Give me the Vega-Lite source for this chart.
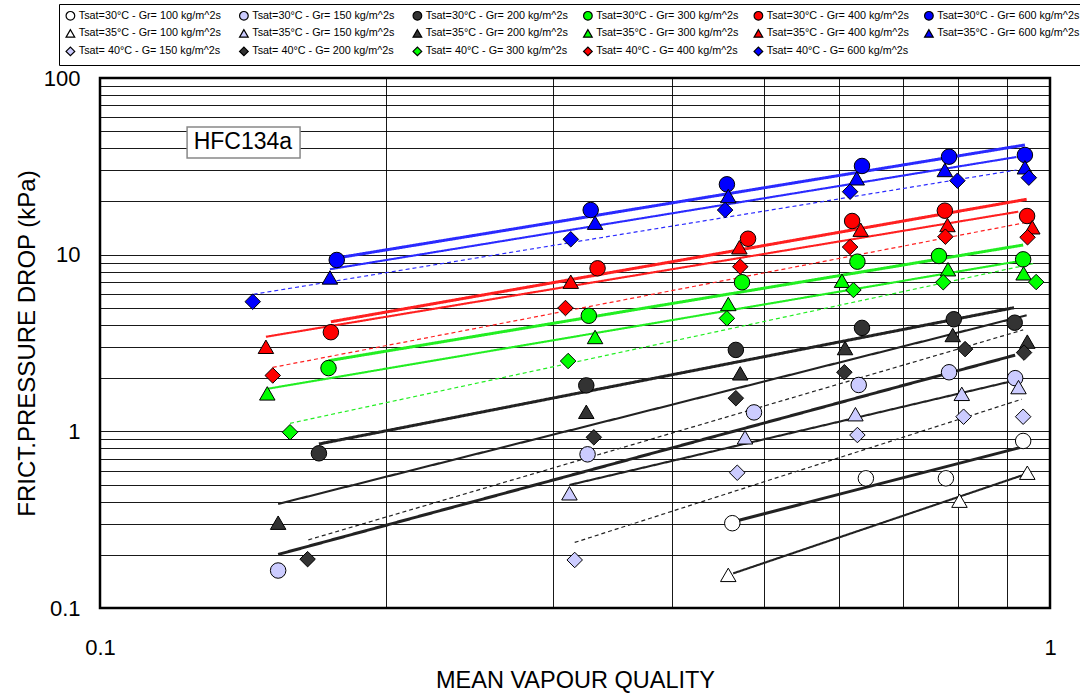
{
  "$schema": "https://vega.github.io/schema/vega-lite/v6.json",
  "width": 950,
  "height": 530,
  "autosize": {"type": "none"},
  "padding": {"left": 100, "top": 78, "right": 30, "bottom": 85},
  "background": "white",
  "config": {
    "font": "Liberation Sans",
    "view": {"stroke": "black", "strokeWidth": 2.5}
  },
  "datasets": {
    "pts": [
      {"series": "Tsat=30°C - Gr=  100 kg/m^2s", "x": 0.463, "y": 0.302},
      {"series": "Tsat=30°C - Gr=  100 kg/m^2s", "x": 0.640, "y": 0.542},
      {"series": "Tsat=30°C - Gr=  100 kg/m^2s", "x": 0.777, "y": 0.542},
      {"series": "Tsat=30°C - Gr=  100 kg/m^2s", "x": 0.937, "y": 0.882},
      {"series": "Tsat=30°C - Gr=  150 kg/m^2s", "x": 0.154, "y": 0.163},
      {"series": "Tsat=30°C - Gr=  150 kg/m^2s", "x": 0.326, "y": 0.741},
      {"series": "Tsat=30°C - Gr=  150 kg/m^2s", "x": 0.488, "y": 1.28},
      {"series": "Tsat=30°C - Gr=  150 kg/m^2s", "x": 0.629, "y": 1.83},
      {"series": "Tsat=30°C - Gr=  150 kg/m^2s", "x": 0.783, "y": 2.16},
      {"series": "Tsat=30°C - Gr=  150 kg/m^2s", "x": 0.919, "y": 2.00},
      {"series": "Tsat=30°C - Gr= 200 kg/m^2s", "x": 0.170, "y": 0.751},
      {"series": "Tsat=30°C - Gr= 200 kg/m^2s", "x": 0.325, "y": 1.82},
      {"series": "Tsat=30°C - Gr= 200 kg/m^2s", "x": 0.467, "y": 2.89},
      {"series": "Tsat=30°C - Gr= 200 kg/m^2s", "x": 0.634, "y": 3.85},
      {"series": "Tsat=30°C - Gr= 200 kg/m^2s", "x": 0.792, "y": 4.31},
      {"series": "Tsat=30°C - Gr= 200 kg/m^2s", "x": 0.918, "y": 4.12},
      {"series": "Tsat=30°C - Gr= 300 kg/m^2s", "x": 0.174, "y": 2.28},
      {"series": "Tsat=30°C - Gr= 300 kg/m^2s", "x": 0.327, "y": 4.51},
      {"series": "Tsat=30°C - Gr= 300 kg/m^2s", "x": 0.474, "y": 6.98},
      {"series": "Tsat=30°C - Gr= 300 kg/m^2s", "x": 0.627, "y": 9.13},
      {"series": "Tsat=30°C - Gr= 300 kg/m^2s", "x": 0.764, "y": 9.83},
      {"series": "Tsat=30°C - Gr= 300 kg/m^2s", "x": 0.937, "y": 9.41},
      {"series": "Tsat=30°C - Gr= 400 kg/m^2s", "x": 0.175, "y": 3.64},
      {"series": "Tsat=30°C - Gr= 400 kg/m^2s", "x": 0.334, "y": 8.37},
      {"series": "Tsat=30°C - Gr= 400 kg/m^2s", "x": 0.481, "y": 12.31},
      {"series": "Tsat=30°C - Gr= 400 kg/m^2s", "x": 0.619, "y": 15.51},
      {"series": "Tsat=30°C - Gr= 400 kg/m^2s", "x": 0.775, "y": 17.74},
      {"series": "Tsat=30°C - Gr= 400 kg/m^2s", "x": 0.946, "y": 16.55},
      {"series": "Tsat=30°C - Gr= 600 kg/m^2s", "x": 0.1775, "y": 9.33},
      {"series": "Tsat=30°C - Gr= 600 kg/m^2s", "x": 0.3285, "y": 17.89},
      {"series": "Tsat=30°C - Gr= 600 kg/m^2s", "x": 0.457, "y": 25.02},
      {"series": "Tsat=30°C - Gr= 600 kg/m^2s", "x": 0.634, "y": 31.77},
      {"series": "Tsat=30°C - Gr= 600 kg/m^2s", "x": 0.783, "y": 35.85},
      {"series": "Tsat=30°C - Gr= 600 kg/m^2s", "x": 0.941, "y": 36.66},
      {"series": "Tsat=35°C - Gr= 100 kg/m^2s", "x": 0.4585, "y": 0.154},
      {"series": "Tsat=35°C - Gr= 100 kg/m^2s", "x": 0.803, "y": 0.405},
      {"series": "Tsat=35°C - Gr= 100 kg/m^2s", "x": 0.9465, "y": 0.583},
      {"series": "Tsat=35°C - Gr= 150 kg/m^2s", "x": 0.312, "y": 0.446},
      {"series": "Tsat=35°C - Gr= 150 kg/m^2s", "x": 0.4775, "y": 0.925},
      {"series": "Tsat=35°C - Gr= 150 kg/m^2s", "x": 0.624, "y": 1.25},
      {"series": "Tsat=35°C - Gr= 150 kg/m^2s", "x": 0.8075, "y": 1.63},
      {"series": "Tsat=35°C - Gr= 150 kg/m^2s", "x": 0.9265, "y": 1.78},
      {"series": "Tsat=35°C - Gr= 200 kg/m^2s", "x": 0.154, "y": 0.304},
      {"series": "Tsat=35°C - Gr= 200 kg/m^2s", "x": 0.325, "y": 1.29},
      {"series": "Tsat=35°C - Gr= 200 kg/m^2s", "x": 0.472, "y": 2.13},
      {"series": "Tsat=35°C - Gr= 200 kg/m^2s", "x": 0.6085, "y": 2.96},
      {"series": "Tsat=35°C - Gr= 200 kg/m^2s", "x": 0.790, "y": 3.51},
      {"series": "Tsat=35°C - Gr= 200 kg/m^2s", "x": 0.9465, "y": 3.22},
      {"series": "Tsat=35°C - Gr= 300 kg/m^2s", "x": 0.150, "y": 1.64},
      {"series": "Tsat=35°C - Gr= 300 kg/m^2s", "x": 0.332, "y": 3.42},
      {"series": "Tsat=35°C - Gr= 300 kg/m^2s", "x": 0.4585, "y": 5.26},
      {"series": "Tsat=35°C - Gr= 300 kg/m^2s", "x": 0.604, "y": 7.12},
      {"series": "Tsat=35°C - Gr= 300 kg/m^2s", "x": 0.781, "y": 8.27},
      {"series": "Tsat=35°C - Gr= 300 kg/m^2s", "x": 0.938, "y": 7.84},
      {"series": "Tsat=35°C - Gr= 400 kg/m^2s", "x": 0.1495, "y": 3.01},
      {"series": "Tsat=35°C - Gr= 400 kg/m^2s", "x": 0.313, "y": 7.03},
      {"series": "Tsat=35°C - Gr= 400 kg/m^2s", "x": 0.471, "y": 11.01},
      {"series": "Tsat=35°C - Gr= 400 kg/m^2s", "x": 0.632, "y": 13.85},
      {"series": "Tsat=35°C - Gr= 400 kg/m^2s", "x": 0.780, "y": 14.72},
      {"series": "Tsat=35°C - Gr= 400 kg/m^2s", "x": 0.958, "y": 14.29},
      {"series": "Tsat=35°C - Gr= 600 kg/m^2s", "x": 0.1746, "y": 7.43},
      {"series": "Tsat=35°C - Gr= 600 kg/m^2s", "x": 0.332, "y": 15.17},
      {"series": "Tsat=35°C - Gr= 600 kg/m^2s", "x": 0.4585, "y": 21.48},
      {"series": "Tsat=35°C - Gr= 600 kg/m^2s", "x": 0.626, "y": 27.05},
      {"series": "Tsat=35°C - Gr= 600 kg/m^2s", "x": 0.775, "y": 30.15},
      {"series": "Tsat=35°C - Gr= 600 kg/m^2s", "x": 0.941, "y": 31.23},
      {"series": "Tsat= 40°C - G= 150 kg/m^2s", "x": 0.316, "y": 0.187},
      {"series": "Tsat= 40°C - G= 150 kg/m^2s", "x": 0.4686, "y": 0.583},
      {"series": "Tsat= 40°C - G= 150 kg/m^2s", "x": 0.627, "y": 0.953},
      {"series": "Tsat= 40°C - G= 150 kg/m^2s", "x": 0.811, "y": 1.21},
      {"series": "Tsat= 40°C - G= 150 kg/m^2s", "x": 0.937, "y": 1.21},
      {"series": "Tsat= 40°C - G= 200 kg/m^2s", "x": 0.1654, "y": 0.189},
      {"series": "Tsat= 40°C - G= 200 kg/m^2s", "x": 0.331, "y": 0.925},
      {"series": "Tsat= 40°C - G= 200 kg/m^2s", "x": 0.467, "y": 1.54},
      {"series": "Tsat= 40°C - G= 200 kg/m^2s", "x": 0.6075, "y": 2.16},
      {"series": "Tsat= 40°C - G= 200 kg/m^2s", "x": 0.814, "y": 2.92},
      {"series": "Tsat= 40°C - G= 200 kg/m^2s", "x": 0.939, "y": 2.79},
      {"series": "Tsat= 40°C - G= 300 kg/m^2s", "x": 0.1585, "y": 0.988},
      {"series": "Tsat= 40°C - G= 300 kg/m^2s", "x": 0.311, "y": 2.50},
      {"series": "Tsat= 40°C - G= 300 kg/m^2s", "x": 0.457, "y": 4.36},
      {"series": "Tsat= 40°C - G= 300 kg/m^2s", "x": 0.621, "y": 6.31},
      {"series": "Tsat= 40°C - G= 300 kg/m^2s", "x": 0.772, "y": 6.98},
      {"series": "Tsat= 40°C - G= 300 kg/m^2s", "x": 0.967, "y": 7.00},
      {"series": "Tsat= 40°C - G= 400 kg/m^2s", "x": 0.152, "y": 2.07},
      {"series": "Tsat= 40°C - G= 400 kg/m^2s", "x": 0.309, "y": 4.99},
      {"series": "Tsat= 40°C - G= 400 kg/m^2s", "x": 0.472, "y": 8.55},
      {"series": "Tsat= 40°C - G= 400 kg/m^2s", "x": 0.616, "y": 11.05},
      {"series": "Tsat= 40°C - G= 400 kg/m^2s", "x": 0.776, "y": 12.64},
      {"series": "Tsat= 40°C - G= 400 kg/m^2s", "x": 0.947, "y": 12.54},
      {"series": "Tsat= 40°C - G= 600 kg/m^2s", "x": 0.1448, "y": 5.42},
      {"series": "Tsat= 40°C - G= 600 kg/m^2s", "x": 0.313, "y": 12.22},
      {"series": "Tsat= 40°C - G= 600 kg/m^2s", "x": 0.455, "y": 17.89},
      {"series": "Tsat= 40°C - G= 600 kg/m^2s", "x": 0.616, "y": 22.72},
      {"series": "Tsat= 40°C - G= 600 kg/m^2s", "x": 0.799, "y": 26.22},
      {"series": "Tsat= 40°C - G= 600 kg/m^2s", "x": 0.950, "y": 27.27}
    ],
    "fits": [
      {"l": "1", "T": "30", "G": "100", "x": 0.464, "y": 0.308},
      {"l": "1", "T": "30", "G": "100", "x": 0.937, "y": 0.818},
      {"l": "2", "T": "30", "G": "150", "x": 0.154, "y": 0.201},
      {"l": "2", "T": "30", "G": "150", "x": 0.919, "y": 2.70},
      {"l": "3", "T": "30", "G": "200", "x": 0.170, "y": 0.848},
      {"l": "3", "T": "30", "G": "200", "x": 0.9165, "y": 5.01},
      {"l": "4", "T": "30", "G": "300", "x": 0.174, "y": 2.51},
      {"l": "4", "T": "30", "G": "300", "x": 0.937, "y": 11.34},
      {"l": "5", "T": "30", "G": "400", "x": 0.175, "y": 4.17},
      {"l": "5", "T": "30", "G": "400", "x": 0.945, "y": 20.58},
      {"l": "6", "T": "30", "G": "600", "x": 0.1776, "y": 9.58},
      {"l": "6", "T": "30", "G": "600", "x": 0.941, "y": 41.78},
      {"l": "7", "T": "35", "G": "100", "x": 0.464, "y": 0.157},
      {"l": "7", "T": "35", "G": "100", "x": 0.937, "y": 0.566},
      {"l": "8", "T": "35", "G": "150", "x": 0.312, "y": 0.497},
      {"l": "8", "T": "35", "G": "150", "x": 0.922, "y": 1.95},
      {"l": "9", "T": "35", "G": "200", "x": 0.154, "y": 0.388},
      {"l": "9", "T": "35", "G": "200", "x": 0.945, "y": 4.54},
      {"l": "10", "T": "35", "G": "300", "x": 0.150, "y": 1.74},
      {"l": "10", "T": "35", "G": "300", "x": 0.930, "y": 9.21},
      {"l": "11", "T": "35", "G": "400", "x": 0.1495, "y": 3.43},
      {"l": "11", "T": "35", "G": "400", "x": 0.926, "y": 17.51},
      {"l": "12", "T": "35", "G": "600", "x": 0.1746, "y": 8.27},
      {"l": "12", "T": "35", "G": "600", "x": 0.922, "y": 35.71},
      {"l": "13", "T": "40", "G": "150", "x": 0.316, "y": 0.235},
      {"l": "13", "T": "40", "G": "150", "x": 0.934, "y": 1.52},
      {"l": "14", "T": "40", "G": "200", "x": 0.1657, "y": 0.243},
      {"l": "14", "T": "40", "G": "200", "x": 0.937, "y": 3.75},
      {"l": "15", "T": "40", "G": "300", "x": 0.1585, "y": 1.11},
      {"l": "15", "T": "40", "G": "300", "x": 0.964, "y": 8.94},
      {"l": "16", "T": "40", "G": "400", "x": 0.152, "y": 2.30},
      {"l": "16", "T": "40", "G": "400", "x": 0.941, "y": 15.17},
      {"l": "17", "T": "40", "G": "600", "x": 0.1451, "y": 5.97},
      {"l": "17", "T": "40", "G": "600", "x": 0.922, "y": 30.15}
    ]
  },
  "encoding": {
    "x": {
      "field": "x",
      "type": "quantitative",
      "scale": {"type": "log", "domain": [0.1, 1], "nice": false},
      "axis": {
        "values": [0.1, 0.2, 0.3, 0.4, 0.5, 0.6, 0.7, 0.8, 0.9, 1],
        "grid": true,
        "gridColor": "#000",
        "gridOpacity": 0.9,
        "gridWidth": 1,
        "ticks": false,
        "domain": false,
        "labelExpr": "datum.value == 0.1 ? '0.1' : datum.value == 1 ? '1' : ''",
        "labelFontSize": 22,
        "labelColor": "#000",
        "labelPadding": 29,
        "labelFlush": false,
        "labelOverlap": false,
        "title": "MEAN VAPOUR QUALITY",
        "titleFontSize": 23.5,
        "titleFontWeight": "normal",
        "titleColor": "#000",
        "titlePadding": 10
      }
    },
    "y": {
      "field": "y",
      "type": "quantitative",
      "scale": {"type": "log", "domain": [0.1, 100], "nice": false},
      "axis": {
        "values": [0.1, 0.2, 0.3, 0.4, 0.5, 0.6, 0.7, 0.8, 0.9, 1, 2, 3, 4, 5, 6, 7, 8, 9, 10, 20, 30, 40, 50, 60, 70, 80, 90, 100],
        "grid": true,
        "gridColor": "#000",
        "gridOpacity": 0.9,
        "gridWidth": 1,
        "ticks": false,
        "domain": false,
        "labelExpr": "datum.value == 0.1 ? '0.1' : datum.value == 1 ? '1' : datum.value == 10 ? '10' : datum.value == 100 ? '100' : ''",
        "labelFontSize": 22,
        "labelColor": "#000",
        "labelPadding": 20,
        "labelFlush": false,
        "labelOverlap": false,
        "title": "FRICT.PRESSURE DROP (kPa)",
        "titleFontSize": 24,
        "titleFontWeight": "normal",
        "titleColor": "#000",
        "titlePadding": 4
      }
    }
  },
  "layer": [
    {
      "data": {"values": [{"x": 0.1235, "x2": 0.1624, "y": 35.26, "y2": 52.8}]},
      "mark": {"type": "rect", "fill": "white", "stroke": "#888", "strokeWidth": 1.5},
      "encoding": {
        "x2": {"field": "x2"},
        "y2": {"field": "y2"}
      }
    },
    {
      "data": {"values": [{"x": 0.1414, "y": 43.4, "label": "HFC134a"}]},
      "mark": {"type": "text", "fontSize": 23, "color": "#000", "align": "center", "baseline": "middle"},
      "encoding": {"text": {"field": "label"}}
    },
    {
      "data": {"name": "fits"},
      "mark": {"type": "line"},
      "encoding": {
        "detail": {"field": "l", "type": "nominal"},
        "stroke": {
          "field": "G",
          "type": "nominal",
          "scale": {"domain": ["100", "150", "200", "300", "400", "600"], "range": ["#222222", "#222222", "#222222", "#22ee22", "#ff2020", "#2a2aff"]},
          "legend": null
        },
        "strokeWidth": {
          "field": "T",
          "type": "nominal",
          "scale": {"domain": ["30", "35", "40"], "range": [3, 1.2, 1.2]},
          "legend": null
        },
        "strokeDash": {
          "field": "T",
          "type": "nominal",
          "scale": {"domain": ["30", "35", "40"], "range": [[1, 0], [1, 0], [4, 3]]},
          "legend": null
        }
      }
    },
    {
      "data": {"name": "pts"},
      "mark": {"type": "point", "filled": true, "size": 240, "stroke": "black", "strokeWidth": 1, "opacity": 1},
      "encoding": {
        "fill": {
          "field": "series",
          "type": "nominal",
          "scale": {
            "domain": ["Tsat=30°C - Gr=  100 kg/m^2s", "Tsat=30°C - Gr=  150 kg/m^2s", "Tsat=30°C - Gr= 200 kg/m^2s", "Tsat=30°C - Gr= 300 kg/m^2s", "Tsat=30°C - Gr= 400 kg/m^2s", "Tsat=30°C - Gr= 600 kg/m^2s", "Tsat=35°C - Gr= 100 kg/m^2s", "Tsat=35°C - Gr= 150 kg/m^2s", "Tsat=35°C - Gr= 200 kg/m^2s", "Tsat=35°C - Gr= 300 kg/m^2s", "Tsat=35°C - Gr= 400 kg/m^2s", "Tsat=35°C - Gr= 600 kg/m^2s", "Tsat= 40°C - G= 150 kg/m^2s", "Tsat= 40°C - G= 200 kg/m^2s", "Tsat= 40°C - G= 300 kg/m^2s", "Tsat= 40°C - G= 400 kg/m^2s", "Tsat= 40°C - G= 600 kg/m^2s"],
            "range": ["#ffffff", "#ccccff", "#333333", "#00ff00", "#ff0000", "#0000ff", "#ffffff", "#ccccff", "#333333", "#00ff00", "#ff0000", "#0000ff", "#ccccff", "#333333", "#00ff00", "#ff0000", "#0000ff"]
          },
          "legend": {
            "title": null,
            "orient": "none",
            "legendX": -41,
            "legendY": -74,
            "columns": 6,
            "direction": "horizontal",
            "strokeColor": "black",
            "fillColor": "white",
            "padding": 6,
            "labelFontSize": 10.8,
            "labelColor": "#000",
            "labelLimit": 300,
            "labelOffset": 3,
            "symbolSize": 75,
            "symbolStrokeColor": "black",
            "symbolStrokeWidth": 1,
            "symbolOpacity": 1,
            "columnPadding": 12.5,
            "rowPadding": 4,
            "encode": {
              "symbols": {"update": {"stroke": {"value": "black"}, "strokeWidth": {"value": 1.2}}}
            }
          }
        },
        "shape": {
          "field": "series",
          "type": "nominal",
          "scale": {
            "domain": ["Tsat=30°C - Gr=  100 kg/m^2s", "Tsat=30°C - Gr=  150 kg/m^2s", "Tsat=30°C - Gr= 200 kg/m^2s", "Tsat=30°C - Gr= 300 kg/m^2s", "Tsat=30°C - Gr= 400 kg/m^2s", "Tsat=30°C - Gr= 600 kg/m^2s", "Tsat=35°C - Gr= 100 kg/m^2s", "Tsat=35°C - Gr= 150 kg/m^2s", "Tsat=35°C - Gr= 200 kg/m^2s", "Tsat=35°C - Gr= 300 kg/m^2s", "Tsat=35°C - Gr= 400 kg/m^2s", "Tsat=35°C - Gr= 600 kg/m^2s", "Tsat= 40°C - G= 150 kg/m^2s", "Tsat= 40°C - G= 200 kg/m^2s", "Tsat= 40°C - G= 300 kg/m^2s", "Tsat= 40°C - G= 400 kg/m^2s", "Tsat= 40°C - G= 600 kg/m^2s"],
            "range": ["circle", "circle", "circle", "circle", "circle", "circle", "triangle-up", "triangle-up", "triangle-up", "triangle-up", "triangle-up", "triangle-up", "diamond", "diamond", "diamond", "diamond", "diamond"]
          },
          "legend": {
            "title": null,
            "orient": "none",
            "legendX": -41,
            "legendY": -74,
            "columns": 6,
            "direction": "horizontal",
            "strokeColor": "black",
            "fillColor": "white",
            "padding": 6,
            "labelFontSize": 10.8,
            "labelColor": "#000",
            "labelLimit": 300,
            "labelOffset": 3,
            "symbolSize": 75,
            "symbolStrokeColor": "black",
            "symbolStrokeWidth": 1,
            "symbolOpacity": 1,
            "columnPadding": 12.5,
            "rowPadding": 4,
            "encode": {
              "symbols": {"update": {"stroke": {"value": "black"}, "strokeWidth": {"value": 1.2}}}
            }
          }
        }
      }
    }
  ]
}
